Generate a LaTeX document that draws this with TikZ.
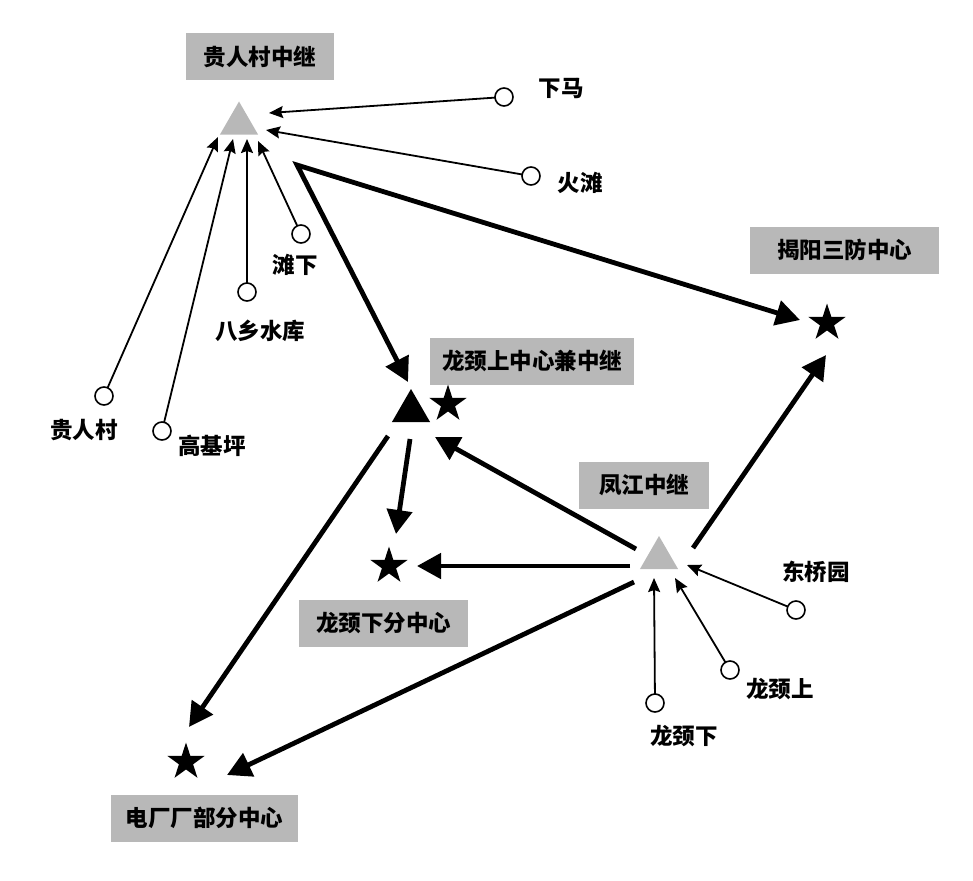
\documentclass[tikz,border=0pt]{standalone}
\usepackage{fontspec}
\setmainfont{Noto Sans CJK SC}
\usetikzlibrary{shapes.geometric,arrows.meta}
\definecolor{dither}{gray}{0.72}
\tikzset{
  lbl/.style={font=\fontsize{22.5}{24}\selectfont\bfseries, inner sep=0pt},
  tag/.style={lbl, fill=dither, anchor=center, minimum height=47pt},
  site/.style={circle, draw=black, line width=1.6pt, fill=white, minimum size=18pt, inner sep=0pt, outer sep=0pt},
  relay/.style={regular polygon, regular polygon sides=3, minimum size=44pt, inner sep=0pt, outer sep=0pt, fill=dither},
  hub/.style={relay, fill=black},
  centre/.style={star, star points=5, star point ratio=2.618, minimum size=39pt, inner sep=0pt, outer sep=0pt, fill=black},
  link/.style={line width=1.8pt, draw=black, -{Stealth[length=14pt,width=12pt,inset=2pt]}},
  trunk/.style={line width=4.8pt, draw=black, miter limit=10, -{Triangle[length=24pt,width=25pt]}},
  trunkboth/.style={trunk, {Triangle[length=24pt,width=25pt]}-{Triangle[length=24pt,width=25pt]}}
}
\begin{document}
\begin{tikzpicture}[x=1pt,y=-1pt]
\useasboundingbox (0,0) rectangle (973,880);
% tags
\node[tag, minimum width=148pt] (tagA) at (260,57) {贵人村中继};
\node[tag, minimum width=204pt] (tagB) at (532,361) {龙颈上中心兼中继};
\node[tag, minimum width=130pt] (tagC) at (644,485) {凤江中继};
\node[tag, minimum width=189pt] (tagD) at (844.5,250) {揭阳三防中心};
\node[tag, minimum width=169pt] (tagE) at (383.5,623) {龙颈下分中心};
\node[tag, minimum width=187pt] (tagF) at (204.5,818) {电厂厂部分中心};
% relays and centres
\node[relay] (relayA) at (239,123.5) {};
\node[hub] (hub) at (411,411) {};
\node[relay] (relayC) at (659,558) {};
\node[centre] (starHub) at (448,404) {};
\node[centre] (starD) at (827,323) {};
\node[centre] (starE) at (389,566) {};
\node[centre] (starF) at (186,762) {};
% stations
\node[site] (xiama) at (504,97) {};
\node[site] (huotan) at (531,176) {};
\node[site] (tanxia) at (301,234) {};
\node[site] (baxiang) at (247,292) {};
\node[site] (guiren) at (104,396) {};
\node[site] (gaoji) at (162,431) {};
\node[site] (dongqiao) at (796,610) {};
\node[site] (longshang) at (730,670) {};
\node[site] (longxia) at (655,703) {};
% station labels
\node[lbl] (lXiama) at (561,88) {下马};
\node[lbl] (lHuotan) at (580,183) {火滩};
\node[lbl] (lTanxia) at (295,265) {滩下};
\node[lbl] (lBaxiang) at (260,331) {八乡水库};
\node[lbl] (lGuiren) at (84,430) {贵人村};
\node[lbl] (lGaoji) at (212,446) {高基坪};
\node[lbl] (lDong) at (816,572) {东桥园};
\node[lbl] (lShang) at (780,689) {龙颈上};
\node[lbl] (lXia) at (684,736) {龙颈下};
% free connector ends
\coordinate (inA1) at (269,113);
\coordinate (inA2) at (266,130);
\coordinate (inA3) at (218,137);
\coordinate (inA4) at (233,139);
\coordinate (inA5) at (247,139);
\coordinate (inA6) at (258,141);
\coordinate (inC1) at (687,565);
\coordinate (inC2) at (675,578);
\coordinate (inC3) at (654,578);
\coordinate (corner) at (297,165);
\coordinate (tipHub) at (408,382);
\coordinate (tipD) at (800,320);
\coordinate (outC1) at (636,549);
\coordinate (tipHub2) at (435,437);
\coordinate (outC2) at (630,566);
\coordinate (tipE) at (417,566);
\coordinate (outHub1) at (410,439);
\coordinate (tipE2) at (396,534);
\coordinate (outHub2) at (388,436);
\coordinate (tipF) at (189,727);
\coordinate (outC3) at (634,582);
\coordinate (tipF2) at (227,775);
\coordinate (outC4) at (693,548);
\coordinate (tipD2) at (826,355);
% thin links
\draw[link] (xiama) -- (inA1);
\draw[link] (huotan) -- (inA2);
\draw[link] (guiren) -- (inA3);
\draw[link] (gaoji) -- (inA4);
\draw[link] (baxiang) -- (inA5);
\draw[link] (tanxia) -- (inA6);
\draw[link] (dongqiao) -- (inC1);
\draw[link] (longshang) -- (inC2);
\draw[link] (longxia) -- (inC3);
% trunks
\draw[trunkboth] (tipHub) -- (corner) -- (tipD);
\draw[trunk] (outC1) -- (tipHub2);
\draw[trunk] (outC2) -- (tipE);
\draw[trunk] (outHub1) -- (tipE2);
\draw[trunk] (outHub2) -- (tipF);
\draw[trunk] (outC3) -- (tipF2);
\draw[trunk] (outC4) -- (tipD2);
\end{tikzpicture}
\end{document}
